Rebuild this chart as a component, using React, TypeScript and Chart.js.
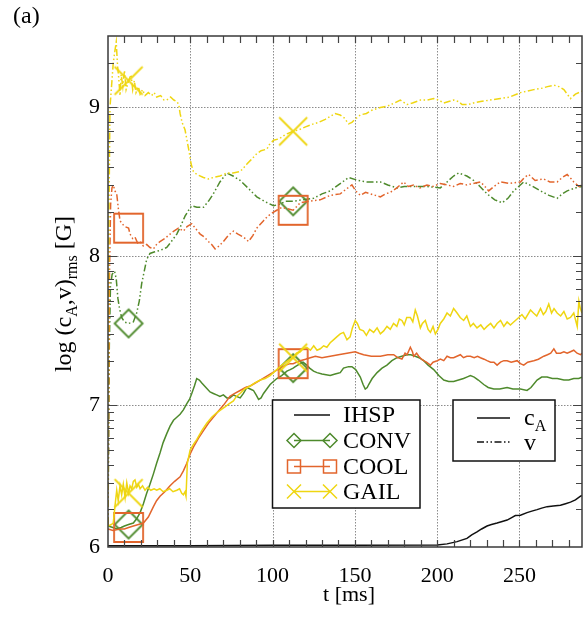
import React, { useEffect, useRef } from "react";
import { Chart, registerables } from "chart.js";

Chart.register(...registerables);

// ---------- axes ----------
const X_MIN = 0;
const X_MAX = 288;
const Y_MIN = 6.049;
const Y_MAX = 9.48;
const xTickValues = [0, 50, 100, 150, 200, 250];
const xTickLabels = ["0", "50", "100", "150", "200", "250"];
const yTickValues = [6.049, 7, 8, 9];
const yTickLabels = ["6", "7", "8", "9"];
const xGridValues = [50, 100, 150, 200, 250];
const yGridValues = [7, 8, 9];
const markerTimes = [12.5, 112.5];

// ---------- IHSP ----------
const ihspCaT = [0, 50, 100, 150, 200, 206, 212.1, 218.1, 221, 224.2, 227, 230.3, 233, 236.4, 239.5, 242.5, 245, 247.5, 250.6, 254.6, 257.5, 260.7, 263.5, 266.8, 270.5, 274.9, 278, 281, 284, 287.1, 288];
const ihspCa = [6.058, 6.058, 6.06, 6.06, 6.062, 6.07, 6.085, 6.107, 6.13, 6.15, 6.17, 6.19, 6.2, 6.21, 6.22, 6.23, 6.245, 6.26, 6.262, 6.28, 6.29, 6.3, 6.31, 6.32, 6.325, 6.33, 6.34, 6.35, 6.365, 6.39, 6.395];

// ---------- CONV ----------
const convCaT = [0, 3, 5.3, 8, 10, 12.5, 15.4, 17.5, 19.5, 21.5, 23.5, 25.5, 27.6, 29.5, 31.6, 33.5, 35.7, 37.7, 39.8, 41.8, 43.8, 45.8, 47.8, 49.5, 50.9, 52.5, 53.9, 55.5, 57, 59.5, 62, 64, 66, 68, 70.1, 72.2, 74, 76.2, 78, 80.3, 82.3, 84.4, 86.4, 88.4, 90, 91.5, 93, 94.5, 96.5, 98.5, 100.5, 102.6, 105.5, 108.7, 110.7, 112.5, 113.8, 116.8, 118.5, 120.8, 122.5, 124.9, 127, 130, 135, 138, 141.1, 143.1, 146.2, 148.2, 150.5, 153.3, 155, 156.3, 157.5, 158.4, 160.5, 163.5, 166.5, 169.5, 172.5, 175.6, 178.5, 181.7, 184, 186.7, 189, 191.8, 194.5, 197.9, 201, 204, 207, 210, 213, 216, 218, 220.2, 222.5, 225, 228.3, 231, 234.4, 238, 242.5, 246, 250.6, 254.6, 257, 260.7, 263.5, 266.8, 270, 273, 277, 280, 283, 286, 288];
const convCa = [6.19, 6.18, 6.17, 6.18, 6.19, 6.2, 6.21, 6.24, 6.28, 6.34, 6.41, 6.47, 6.54, 6.61, 6.68, 6.75, 6.81, 6.86, 6.9, 6.92, 6.94, 6.97, 7.01, 7.04, 7.08, 7.13, 7.18, 7.17, 7.15, 7.12, 7.09, 7.08, 7.07, 7.06, 7.07, 7.05, 7.05, 7.07, 7.06, 7.05, 7.08, 7.12, 7.11, 7.1, 7.07, 7.04, 7.05, 7.08, 7.11, 7.14, 7.16, 7.18, 7.2, 7.23, 7.24, 7.25, 7.26, 7.28, 7.29, 7.27, 7.25, 7.23, 7.22, 7.21, 7.2, 7.21, 7.22, 7.25, 7.26, 7.26, 7.24, 7.19, 7.14, 7.11, 7.12, 7.14, 7.18, 7.22, 7.25, 7.27, 7.3, 7.32, 7.33, 7.34, 7.34, 7.33, 7.32, 7.3, 7.27, 7.24, 7.2, 7.17, 7.16, 7.16, 7.17, 7.18, 7.19, 7.2, 7.19, 7.17, 7.14, 7.12, 7.11, 7.11, 7.12, 7.11, 7.11, 7.1, 7.12, 7.17, 7.19, 7.19, 7.18, 7.18, 7.17, 7.17, 7.18, 7.18, 7.19];
const convVT = [0, 0.8, 1.5, 2.5, 4, 5, 6, 7, 8.3, 10, 12.5, 15.4, 17.4, 19, 20.5, 22, 23.5, 25.5, 28, 31.6, 35.7, 38.5, 41.8, 44, 46.8, 49, 50.9, 54, 58, 61, 64, 68, 72.2, 76, 80.3, 85, 90.4, 95, 100.6, 104, 108, 112.5, 118, 124.9, 130, 135, 140, 146.2, 152, 157.4, 165.5, 170, 175.6, 180, 185.7, 193.8, 201.9, 206, 210, 213.1, 218, 222.2, 226, 230.3, 235, 239.5, 243, 246.5, 252.6, 258, 262.8, 268, 272.9, 276, 279, 284, 288];
const convV = [6.2, 7.4, 7.8, 7.88, 7.9, 7.85, 7.72, 7.65, 7.59, 7.56, 7.55, 7.56, 7.62, 7.7, 7.82, 7.9, 7.98, 8.02, 8.03, 8.04, 8.06, 8.1, 8.15, 8.2, 8.27, 8.31, 8.34, 8.33, 8.33, 8.37, 8.42, 8.5, 8.56, 8.54, 8.51, 8.46, 8.4, 8.37, 8.34, 8.35, 8.37, 8.37, 8.38, 8.39, 8.42, 8.44, 8.48, 8.53, 8.51, 8.5, 8.5, 8.48, 8.46, 8.47, 8.47, 8.47, 8.46, 8.5, 8.54, 8.56, 8.54, 8.51, 8.47, 8.42, 8.38, 8.36, 8.39, 8.44, 8.5, 8.47, 8.44, 8.41, 8.39, 8.42, 8.44, 8.46, 8.47];

// ---------- COOL ----------
const coolCaT = [0, 3, 7.3, 10, 12.5, 15.4, 18.5, 21.5, 24.5, 27.6, 29.5, 31.6, 34.5, 37.7, 40.5, 43.8, 45.8, 47.8, 49.8, 51.9, 55, 58, 61, 64, 67, 70.1, 72.1, 74.1, 77, 80.3, 83.5, 86.4, 89.5, 92.5, 95.5, 98.5, 101.5, 104.6, 108, 110.7, 112.5, 116.8, 120, 122.9, 126, 130, 135, 140, 145.2, 150.2, 152.5, 155.3, 160, 165.5, 170, 173.6, 176, 178.6, 180.5, 181.7, 183.7, 185, 185.7, 187.5, 188.8, 190.5, 191.8, 193.5, 195.9, 197.5, 200, 202, 204, 206, 208, 210, 212, 214.1, 216, 218, 220.2, 222.5, 224.5, 226.3, 228.5, 230.3, 232.5, 234.5, 236.4, 238.5, 240.5, 242.5, 245, 248.6, 250.6, 252.6, 255, 258.7, 261.5, 264.8, 267, 269, 270.9, 272.5, 274.9, 277, 279, 281, 283, 285, 287.1, 288];
const coolCa = [6.17, 6.16, 6.17, 6.17, 6.18, 6.19, 6.2, 6.21, 6.25, 6.32, 6.36, 6.39, 6.42, 6.46, 6.49, 6.52, 6.56, 6.61, 6.67, 6.72, 6.78, 6.83, 6.88, 6.92, 6.96, 7.0, 7.03, 7.06, 7.08, 7.1, 7.12, 7.13, 7.15, 7.17, 7.19, 7.21, 7.23, 7.25, 7.27, 7.28, 7.28, 7.3, 7.31, 7.32, 7.33, 7.32, 7.33, 7.34, 7.35, 7.36, 7.35, 7.34, 7.33, 7.33, 7.34, 7.34, 7.32, 7.31, 7.35, 7.34, 7.39, 7.36, 7.33, 7.35, 7.33, 7.31, 7.3, 7.29, 7.27, 7.29, 7.3, 7.31, 7.3, 7.33, 7.32, 7.32, 7.33, 7.34, 7.32, 7.33, 7.33, 7.32, 7.33, 7.32, 7.31, 7.3, 7.29, 7.29, 7.27, 7.29, 7.3, 7.3, 7.29, 7.3, 7.28, 7.27, 7.29, 7.3, 7.31, 7.33, 7.34, 7.35, 7.38, 7.35, 7.35, 7.36, 7.35, 7.36, 7.37, 7.35, 7.34, 7.35];
const coolVT = [0, 0.8, 1.6, 2.4, 3.2, 4.2, 5.3, 6.3, 7.3, 8.5, 10.3, 12.5, 13.4, 15, 16.4, 18, 19.5, 21.5, 23.5, 25.5, 27.6, 29.5, 31.6, 34.5, 37.7, 40, 42.8, 45.8, 48, 50.9, 53, 56, 58.5, 61, 63, 65.1, 67.5, 70.1, 73, 76.2, 79, 82.3, 85.4, 88, 90.4, 94.5, 97, 99.6, 102.5, 105.7, 109, 112.5, 116.8, 122, 128.9, 135, 141.1, 144.5, 148.2, 150.5, 153.3, 156.5, 159.4, 162.5, 165.5, 168.5, 171.5, 175.5, 179.6, 182.5, 185.7, 189.5, 193.8, 197.5, 201.9, 206, 210, 214, 218.1, 222, 226.3, 229, 231.3, 234.5, 238.4, 244, 250.6, 253, 255.6, 259.5, 264.7, 268.5, 272.9, 276, 279, 281.5, 283, 286, 288];
const coolV = [6.2, 7.8, 8.35, 8.46, 8.48, 8.44, 8.42, 8.32, 8.24, 8.22, 8.2, 8.19, 8.15, 8.12, 8.13, 8.09, 8.1, 8.07, 8.08, 8.06, 8.05, 8.08, 8.1, 8.12, 8.15, 8.17, 8.19, 8.17, 8.2, 8.22, 8.19, 8.15, 8.13, 8.1, 8.08, 8.05, 8.07, 8.1, 8.14, 8.17, 8.15, 8.13, 8.1, 8.14, 8.19, 8.24, 8.27, 8.29, 8.31, 8.33, 8.32, 8.31, 8.36, 8.37, 8.38, 8.41, 8.42, 8.45, 8.48, 8.44, 8.41, 8.43, 8.42, 8.41, 8.4, 8.42, 8.43, 8.46, 8.5, 8.47, 8.48, 8.46, 8.48, 8.47, 8.49, 8.48, 8.47, 8.49, 8.48, 8.49, 8.5, 8.47, 8.44, 8.47, 8.5, 8.49, 8.5, 8.53, 8.55, 8.51, 8.52, 8.5, 8.5, 8.53, 8.55, 8.52, 8.5, 8.47, 8.48];

// ---------- GAIL ----------
const gailCaT = [0, 2, 3.2, 4.2, 5.3, 6.2, 7.3, 8.3, 9.3, 10.4, 11.4, 12.5, 13.4, 14.4, 15.4, 16.4, 17.5, 18.5, 19.5, 21, 22.5, 24, 26, 28, 29.6, 31.5, 33.5, 35.7, 37.5, 39.5, 41.8, 43.5, 44.8, 45.8, 46.8, 47.4, 48.2, 49.9, 52, 53.9, 57, 60, 63, 66, 68.5, 71.1, 73.5, 76.2, 78, 80.3, 83, 86.4, 89, 92.5, 95.5, 98.5, 101.5, 104.6, 108, 110.7, 112.5, 114.5, 116.8, 118.5, 120.8, 123, 125, 127, 129, 131, 133, 135, 137, 139, 141.1, 143.1, 145.2, 147.1, 148.5, 150.2, 151.5, 153, 155.2, 157, 159, 161.4, 163.5, 165.5, 167.5, 169.5, 171.5, 173.5, 175.5, 177, 178.6, 180, 181.5, 183.7, 185.2, 186.7, 188, 189.8, 191, 192.8, 194.5, 195.9, 197.5, 198.9, 200.5, 201.9, 204, 206, 208, 210, 212.1, 214, 216.1, 218, 220.2, 222, 224.2, 226.5, 228.5, 230.3, 232.5, 234.5, 236.4, 238.5, 240.5, 242.5, 244.5, 246.5, 249.6, 251.5, 253.5, 256.7, 258.5, 260.5, 262.8, 264.5, 266, 267.8, 269.5, 271, 272.9, 275, 277, 279, 281, 283, 285.1, 286.1, 287, 288];
const gailCa = [6.19, 6.2, 6.21, 6.32, 6.43, 6.36, 6.46, 6.4, 6.47, 6.38, 6.48, 6.41, 6.46, 6.44, 6.49, 6.5, 6.45, 6.47, 6.44, 6.46, 6.43, 6.45, 6.43, 6.44, 6.43, 6.44, 6.42, 6.43, 6.44, 6.42, 6.43, 6.44, 6.41, 6.4, 6.42, 6.39, 6.61, 6.7, 6.74, 6.77, 6.83, 6.88, 6.92, 6.95, 6.97, 6.99, 7.01, 7.03, 7.06, 7.08, 7.11, 7.13, 7.15, 7.17, 7.18, 7.2, 7.23, 7.26, 7.29, 7.31, 7.32, 7.35, 7.36, 7.38, 7.39, 7.37, 7.4, 7.37, 7.38, 7.4, 7.39, 7.42, 7.44, 7.46, 7.48, 7.49, 7.44, 7.46, 7.52, 7.57, 7.55, 7.51, 7.5, 7.47, 7.51, 7.49, 7.52, 7.48, 7.5, 7.53, 7.51, 7.55, 7.53, 7.58, 7.57, 7.54, 7.59, 7.59, 7.56, 7.64, 7.6, 7.52, 7.55, 7.57, 7.51, 7.49, 7.53, 7.48, 7.51, 7.55, 7.58, 7.62, 7.6, 7.65, 7.62, 7.59, 7.57, 7.6, 7.53, 7.55, 7.52, 7.54, 7.51, 7.53, 7.55, 7.52, 7.55, 7.57, 7.53, 7.56, 7.54, 7.56, 7.59, 7.61, 7.58, 7.64, 7.62, 7.6, 7.65, 7.61, 7.63, 7.68, 7.62, 7.65, 7.62, 7.6, 7.63, 7.58, 7.59, 7.62, 7.53, 7.7, 7.65, 7.62];
const gailVT = [0, 0.6, 1.2, 2.2, 3.2, 4.2, 5, 5.8, 6.5, 7.3, 8, 9, 10, 11, 12.5, 14, 15, 16, 17, 18.5, 19.5, 21, 22.5, 24.5, 26.5, 28, 29.6, 32, 34, 35.7, 38, 40, 41.8, 43, 43.8, 45, 46.8, 48, 49.5, 50.5, 51.9, 54, 58, 61, 64, 68, 72.2, 76, 80.3, 82, 84.4, 87, 90.4, 93, 96.5, 98, 100.6, 104, 108, 112.5, 116, 120, 124.9, 128, 132, 135, 138, 141, 143.5, 146.2, 148.2, 150, 153.3, 157, 160, 165.5, 170, 174, 177.6, 181.7, 185, 189.8, 194, 197.9, 201, 204, 207, 210, 213, 215.1, 219, 222, 226.3, 232, 238.4, 244, 250.6, 255, 258.7, 264, 267, 270.9, 274, 277, 279, 281, 284, 288];
const gailV = [6.2, 8.3, 9.0, 9.15, 9.3, 9.38, 9.44, 9.28, 9.2, 9.08, 9.22, 9.14, 9.25, 9.12, 9.18, 9.22, 9.12, 9.18, 9.1, 9.14, 9.09, 9.12, 9.08, 9.1, 9.08, 9.1, 9.07, 9.08, 9.05, 9.05, 9.07, 9.05, 9.04, 9.02, 8.96, 8.9, 8.85, 8.78, 8.69, 8.62, 8.57, 8.55, 8.53, 8.52, 8.53, 8.54, 8.56, 8.56, 8.57, 8.59, 8.62, 8.65, 8.69, 8.71, 8.72, 8.75, 8.78, 8.79, 8.82, 8.84, 8.85, 8.87, 8.89, 8.9, 8.92, 8.94, 8.96, 8.95, 8.93, 8.89, 8.9, 8.92, 8.95, 8.96, 8.98, 9.0, 9.01, 9.03, 9.05, 9.02, 9.03, 9.05, 9.05, 9.06, 9.05, 9.03, 9.04, 9.05, 9.04, 9.02, 9.02, 9.03, 9.04, 9.05, 9.06, 9.07, 9.1, 9.11, 9.12, 9.13, 9.14, 9.15, 9.14, 9.12, 9.09, 9.06, 9.09, 9.11];

// ---------- styles ----------
const BLACK = "#111111";
const GREEN = "#4e8a2c";
const ORANGE = "#e2652c";
const YELLOW = "#efd612";
const V_DASH = [7, 2.5, 1.5, 2.5, 1.5, 2.5];
const SERIF = '"Liberation Serif", "Times New Roman", serif';

const pts = (t: number[], v: number[]) => t.map((x, i) => ({ x, y: v[i] }));

function drawShape(ctx: CanvasRenderingContext2D, kind: string, cx: number, cy: number, h: number) {
  ctx.beginPath();
  if (kind === "diamond") {
    ctx.moveTo(cx, cy - h);
    ctx.lineTo(cx + h, cy);
    ctx.lineTo(cx, cy + h);
    ctx.lineTo(cx - h, cy);
    ctx.closePath();
  } else if (kind === "square") {
    ctx.rect(cx - h, cy - h, 2 * h, 2 * h);
  } else {
    ctx.moveTo(cx - h, cy - h);
    ctx.lineTo(cx + h, cy + h);
    ctx.moveTo(cx + h, cy - h);
    ctx.lineTo(cx - h, cy + h);
  }
  ctx.stroke();
}

function makeMarker(kind: string, color: string, h: number) {
  const c = document.createElement("canvas");
  const s = Math.ceil(2 * h + 4);
  c.width = s;
  c.height = s;
  const ctx = c.getContext("2d")!;
  ctx.strokeStyle = color;
  ctx.lineWidth = 1.8;
  drawShape(ctx, kind, s / 2, s / 2, h);
  return c;
}

function drawText(ctx: CanvasRenderingContext2D, parts: [string, number, number][], x: number, y: number) {
  // parts: [text, fontSize, baselineShift]
  let cx = x;
  for (const [t, size, dy] of parts) {
    ctx.font = `${size}px ${SERIF}`;
    ctx.fillText(t, cx, y + dy);
    cx += ctx.measureText(t).width;
  }
}
function textWidth(ctx: CanvasRenderingContext2D, parts: [string, number, number][]) {
  let w = 0;
  for (const [t, size] of parts) {
    ctx.font = `${size}px ${SERIF}`;
    w += ctx.measureText(t).width;
  }
  return w;
}

const decorPlugin = {
  id: "decor",
  beforeDatasetsDraw(chart: any) {
    const { ctx, chartArea: a, scales } = chart;
    const x = scales.x;
    const y = scales.y;
    ctx.save();
    ctx.strokeStyle = "#8c8c8c";
    ctx.lineWidth = 1;
    ctx.setLineDash([1.5, 1.5]);
    for (const v of xGridValues) {
      const px = Math.round(x.getPixelForValue(v)) + 0.5;
      ctx.beginPath();
      ctx.moveTo(px, a.top);
      ctx.lineTo(px, a.bottom);
      ctx.stroke();
    }
    for (const v of yGridValues) {
      const py = Math.round(y.getPixelForValue(v)) + 0.5;
      ctx.beginPath();
      ctx.moveTo(a.left, py);
      ctx.lineTo(a.right, py);
      ctx.stroke();
    }
    ctx.restore();
  },
  afterDatasetsDraw(chart: any) {
    const { ctx, chartArea: a, scales } = chart;
    const x = scales.x;
    const y = scales.y;
    ctx.save();
    ctx.setLineDash([]);
    // ticks
    ctx.strokeStyle = "#444";
    ctx.lineWidth = 1.2;
    for (let t = 10; t < X_MAX; t += 10) {
      const px = Math.round(x.getPixelForValue(t)) + 0.5;
      ctx.beginPath();
      ctx.moveTo(px, a.bottom);
      ctx.lineTo(px, a.bottom - 7);
      ctx.moveTo(px, a.top);
      ctx.lineTo(px, a.top + 7);
      ctx.stroke();
    }
    for (let n = 6; n <= 9; n++) {
      for (let k = 1; k <= 9; k++) {
        const v = n + Math.log10(k);
        if (v <= Y_MIN + 0.01 || v >= Y_MAX - 0.005) continue;
        const len = k === 1 ? 9 : 6;
        const py = Math.round(y.getPixelForValue(v)) + 0.5;
        ctx.beginPath();
        ctx.moveTo(a.left, py);
        ctx.lineTo(a.left + len, py);
        ctx.moveTo(a.right, py);
        ctx.lineTo(a.right - len, py);
        ctx.stroke();
      }
    }
    // frame
    ctx.strokeStyle = "#3a3a3a";
    ctx.lineWidth = 1.5;
    ctx.strokeRect(a.left, a.top, a.right - a.left, a.bottom - a.top);

    // legend 1
    ctx.fillStyle = "#fff";
    ctx.fillRect(272.5, 400, 147.5, 108);
    ctx.strokeStyle = "#111";
    ctx.lineWidth = 1.5;
    ctx.strokeRect(272.5, 400, 147.5, 108);
    const rows: [string, string, string, number][] = [
      ["IHSP", BLACK, "", 415],
      ["CONV", GREEN, "diamond", 440.5],
      ["COOL", ORANGE, "square", 466.5],
      ["GAIL", YELLOW, "x", 491.5],
    ];
    for (const [label, color, kind, ry] of rows) {
      ctx.strokeStyle = color;
      ctx.lineWidth = 1.5;
      ctx.beginPath();
      ctx.moveTo(294, ry);
      ctx.lineTo(330, ry);
      ctx.stroke();
      if (kind) {
        const h = kind === "square" ? 6.5 : 7;
        drawShape(ctx, kind, 294, ry, h);
        drawShape(ctx, kind, 330, ry, h);
      }
      ctx.fillStyle = "#000";
      ctx.textBaseline = "middle";
      ctx.textAlign = "left";
      ctx.font = `24px ${SERIF}`;
      ctx.fillText(label, 343, ry + 1);
    }
    // legend 2
    ctx.fillStyle = "#fff";
    ctx.fillRect(453, 400, 102, 61);
    ctx.strokeStyle = "#111";
    ctx.lineWidth = 1.5;
    ctx.strokeRect(453, 400, 102, 61);
    ctx.strokeStyle = BLACK;
    ctx.lineWidth = 1.5;
    ctx.beginPath();
    ctx.moveTo(477, 418);
    ctx.lineTo(510, 418);
    ctx.stroke();
    ctx.setLineDash(V_DASH);
    ctx.beginPath();
    ctx.moveTo(477, 442);
    ctx.lineTo(510, 442);
    ctx.stroke();
    ctx.setLineDash([]);
    ctx.fillStyle = "#000";
    ctx.textBaseline = "alphabetic";
    drawText(ctx, [["c", 24, 0], ["A", 16, 6]], 524, 425);
    drawText(ctx, [["v", 24, 0]], 524, 450);

    // (a)
    drawText(ctx, [["(a)", 24, 0]], 13, 23);

    // x title
    ctx.font = `22px ${SERIF}`;
    ctx.textAlign = "center";
    ctx.fillText("t [ms]", (a.left + a.right) / 2 + 4, 601);
    ctx.textAlign = "left";

    // y title (rotated)
    const parts: [string, number, number][] = [
      ["log (c", 24, 0],
      ["A", 16, 6],
      [",v)", 24, 0],
      ["rms", 16, 6],
      [" [G]", 24, 0],
    ];
    const w = textWidth(ctx, parts);
    ctx.translate(71, 294);
    ctx.rotate(-Math.PI / 2);
    drawText(ctx, parts, -w / 2, 0);
    ctx.restore();
  },
};

export default function App() {
  const ref = useRef<HTMLCanvasElement>(null);
  useEffect(() => {
    if (!ref.current) return;
    const diamond = makeMarker("diamond", GREEN, 14);
    const square = makeMarker("square", ORANGE, 14.5);
    const cross = makeMarker("x", YELLOW, 14);
    const isMarker = (c: any) => c.type === "data" && c.raw && markerTimes.includes(c.raw.x);
    const line = (data: any[], color: string, dashed: boolean, img: HTMLCanvasElement | null) => ({
      data,
      borderColor: color,
      backgroundColor: color,
      borderWidth: 1.5,
      borderDash: dashed ? V_DASH : [],
      tension: 0,
      fill: false,
      pointRadius: (c: any) => (img && isMarker(c) ? 14 : 0),
      pointStyle: (c: any) => (img && isMarker(c) ? img : "circle"),
      pointBorderWidth: 0,
    });
    const chart = new Chart(ref.current, {
      type: "line",
      data: {
        datasets: [
          line(pts(ihspCaT, ihspCa), BLACK, false, null),
          line(pts(gailCaT, gailCa), YELLOW, false, cross),
          line(pts(coolCaT, coolCa), ORANGE, false, square),
          line(pts(convCaT, convCa), GREEN, false, diamond),
          line(pts(gailVT, gailV), YELLOW, true, cross),
          line(pts(coolVT, coolV), ORANGE, true, square),
          line(pts(convVT, convV), GREEN, true, diamond),
        ] as any,
      },
      options: {
        animation: false,
        responsive: false,
        devicePixelRatio: 1,
        events: [],
        layout: { padding: { left: 0, right: 6, top: 36, bottom: 0 } },
        plugins: { legend: { display: false }, tooltip: { enabled: false } },
        scales: {
          x: {
            type: "linear",
            min: X_MIN,
            max: X_MAX,
            grid: { display: false, drawTicks: false },
            border: { display: false },
            afterBuildTicks: (s: any) => {
              s.ticks = xTickValues.map((v) => ({ value: v }));
            },
            afterFit: (s: any) => {
              s.height = 70;
            },
            ticks: {
              autoSkip: false,
              maxRotation: 0,
              padding: 16,
              color: "#000",
              font: { family: SERIF, size: 22 },
              callback: (_v: any, i: number) => xTickLabels[i],
            },
          },
          y: {
            type: "linear",
            min: Y_MIN,
            max: Y_MAX,
            grid: { display: false, drawTicks: false },
            border: { display: false },
            afterBuildTicks: (s: any) => {
              s.ticks = yTickValues.map((v) => ({ value: v }));
            },
            afterFit: (s: any) => {
              s.width = 108;
            },
            ticks: {
              autoSkip: false,
              padding: 8,
              color: "#000",
              font: { family: SERIF, size: 22 },
              callback: (_v: any, i: number) => yTickLabels[i],
            },
          },
        },
      } as any,
      plugins: [decorPlugin as any],
    });
    return () => chart.destroy();
  }, []);
  return (
    <div style={{ position: "fixed", left: 0, top: 0, width: 588, height: 617, background: "#fff" }}>
      <canvas ref={ref} width={588} height={617} style={{ display: "block", width: 588, height: 617 }} />
    </div>
  );
}
